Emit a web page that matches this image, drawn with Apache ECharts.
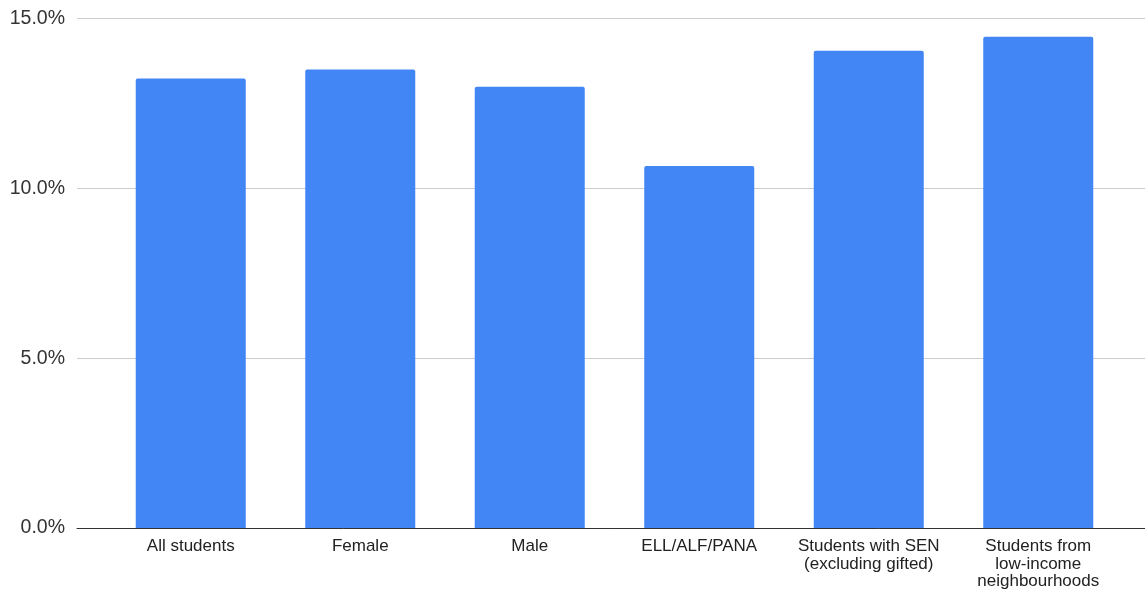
<!DOCTYPE html>
<html>
<head>
<meta charset="utf-8">
<script src="https://cdn.jsdelivr.net/npm/echarts@6/dist/echarts.min.js"></script>
<style>
html,body{margin:0;padding:0;background:#fff;}
#c{width:1145px;height:590px;}
</style>
</head>
<body>
<div id="c"></div>
<script>
const categories = ["All students", "Female", "Male", "ELL/ALF/PANA", "Students with SEN\n(excluding gifted)", "Students from\nlow-income\nneighbourhoods"];
const values = [13.23, 13.50, 12.99, 10.66, 14.05, 14.46];
const yTicks = [0, 5, 10, 15];

const FONT = "'Liberation Sans', Arial, sans-serif";
const chart = echarts.init(document.getElementById('c'), null, {renderer: 'canvas'});
chart.setOption({
  animation: false,
  backgroundColor: '#ffffff',
  textStyle: {fontFamily: FONT},
  grid: [
    {left: 77, right: 0, top: 18.5, bottom: 62, containLabel: false, outerBoundsMode: 'none'},
    {left: 106, right: 22, top: 18.5, bottom: 62, containLabel: false, outerBoundsMode: 'none'}
  ],
  xAxis: [
    {
      type: 'value', gridIndex: 0, min: 0, max: 1,
      axisLine: {show: true, lineStyle: {color: '#333333', width: 1}},
      axisTick: {show: false}, axisLabel: {show: false}, splitLine: {show: false}
    },
    {
      type: 'category', gridIndex: 1, data: categories,
      axisLine: {show: false}, axisTick: {show: false},
      axisLabel: {
        show: true, interval: 0, margin: 10,
        fontSize: 17, lineHeight: 17.5, color: '#222222', fontFamily: FONT, align: 'center'
      }
    }
  ],
  yAxis: [
    {
      type: 'value', gridIndex: 0, min: yTicks[0], max: yTicks[yTicks.length - 1], interval: 5,
      axisLine: {show: false}, axisTick: {show: false},
      axisLabel: {
        margin: 12, fontSize: 19.5, color: '#333333', fontFamily: FONT,
        formatter: v => v.toFixed(1) + '%'
      },
      splitLine: {show: true, lineStyle: {color: '#cccccc', width: 1}}
    },
    {
      type: 'value', gridIndex: 1, min: yTicks[0], max: yTicks[yTicks.length - 1],
      show: false, splitLine: {show: false}
    }
  ],
  series: [{
    type: 'bar', xAxisIndex: 1, yAxisIndex: 1,
    data: values, barWidth: 110,
    itemStyle: {color: '#4285f4', borderRadius: [2, 2, 0, 0]},
    z: 1
  }]
});
</script>
</body>
</html>
